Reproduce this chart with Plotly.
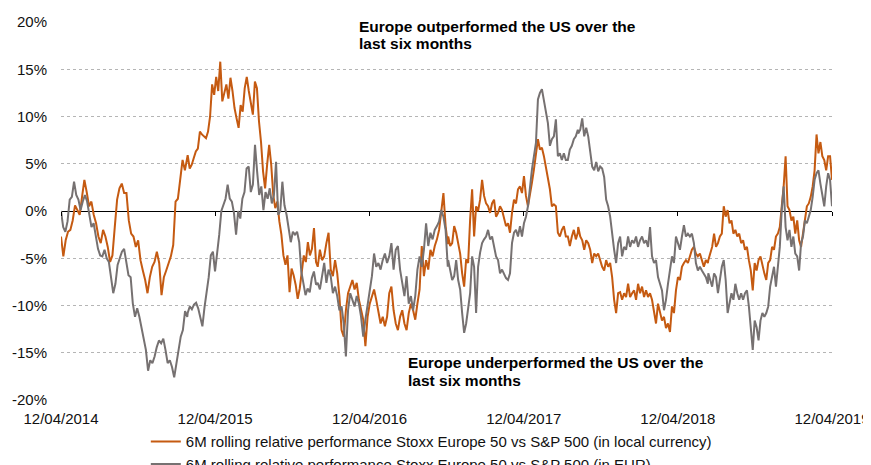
import pandas as pd
import plotly.graph_objects as go

# ---------------- data (values in %) ----------------
segment_dates = [
    ("2014-04-12", "2015-02-05"),
    ("2015-02-06", "2015-12-07"),
    ("2015-12-11", "2016-10-14"),
    ("2016-10-15", "2017-08-18"),
    ("2017-08-19", "2018-06-22"),
    ("2018-06-23", "2019-04-12"),
]

local_1 = [-2.7, -4.8, -3.1, -2.2, -2.0, -1.0, 0.6, 0.1, -0.4, 1.5, 3.3, 2.0, 0.5, 1.0, -0.4,
           -1.3, -2.7, -3.4, -2.0, -2.7, -3.8, -5.4, -4.7, -1.7, 1.2, 2.4, 2.9, 1.9, 1.9, -1.0,
           -2.4, -2.7, -3.8, -3.1, -5.2, -6.3, -7.3, -8.7, -7.0, -5.9, -5.4, -4.3, -5.5, -8.9, -7.0,
           -6.3, -5.5, -4.8, -3.6, 1.0, 1.3, 3.3, 5.4, 4.3, 5.8]
local_2 = [5.9, 4.5, 4.9, 5.6, 6.3, 6.6, 8.4, 8.1, 7.9, 7.7, 8.4, 10.0, 13.4, 12.3, 14.2, 12.7,
           15.8, 11.6, 12.5, 13.4, 11.9, 14.1, 12.7, 10.9, 9.8, 8.8, 11.2, 10.5, 13.0, 14.2, 12.7,
           11.6, 10.2, 13.7, 13.0, 9.5, 7.3, 4.2, 2.4, 4.9, 7.0, 4.9, 1.7, 0.3, 1.0, -1.1, -2.5,
           -4.7, -5.7, -4.7, -8.6, -6.1, -6.8, -7.8, -9.3, -8.2, -6.4, -4.7, -5.4, -3.3, -4.7, -4.0,
           -1.8, -5.4]
local_3 = [-5.9, -4.1, -5.2, -4.8, -3.4, -2.3, -6.2, -6.9, -5.2, -6.6, -9.0, -12.6, -13.3, -10.5,
           -8.7, -8.0, -7.3, -8.3, -7.6, -9.4, -10.5, -11.5, -14.3, -11.2, -9.8, -9.0, -8.3, -9.4,
           -10.8, -11.9, -11.2, -12.2, -11.2, -8.7, -8.0, -10.5, -11.9, -12.6, -11.2, -10.5, -11.9,
           -12.6, -10.8, -9.8, -10.5, -11.5, -9.8, -8.3, -3.7, -6.9, -5.2, -6.2, -4.1, -4.8, -3.7,
           -3.0, -2.0, -0.2, 1.9, -1.6, -3.5]
local_4 = [-2.7, -3.7, -3.4, -1.6, -2.3, -3.4, -4.5, -6.6, -8.0, -5.1, -5.5, -0.9, 2.3, -2.7, 0.5,
           0.0, 1.2, 3.3, 1.6, 0.8, 0.5, -0.2, 0.8, 1.2, -0.6, -0.2, 0.5, 0.1, -0.9, -1.6, -1.3,
           -2.3, -0.2, 1.2, 0.8, 2.3, 2.6, 1.9, 3.7, 1.6, 0.5, 1.6, 3.0, 4.4, 5.8, 7.6, 6.5, 6.7,
           5.8, 4.7, 3.7, 2.3, 0.5, 0.7, 0.5, -2.3, -2.7, -2.0, -1.6, -2.7, -2.7, -3.7, -2.7, -2.0,
           -3.0, -2.3]
local_5 = [-1.7, -2.7, -3.1, -4.1, -3.1, -3.4, -4.1, -5.5, -4.5, -4.8, -4.5, -5.2, -5.9, -6.3,
           -5.2, -5.9, -5.5, -7.0, -9.4, -10.8, -8.7, -8.6, -9.4, -8.7, -9.1, -7.7, -9.1, -8.7,
           -8.4, -9.4, -7.7, -8.7, -8.0, -9.1, -8.4, -9.1, -8.7, -9.4, -10.5, -11.9, -9.8, -10.8,
           -11.6, -11.2, -12.4, -11.9, -12.8, -10.1, -10.8, -8.4, -7.0, -7.3, -5.9, -5.5, -5.2,
           -5.5, -4.8, -4.1, -3.8, -4.5, -4.8, -4.5, -5.2, -5.9, -5.2, -5.5]
local_6 = [-5.2, -4.5, -3.8, -2.4, -3.8, -3.4, -2.7, -2.4, 0.5, -0.6, 0.1, -1.3, -1.0, -2.4, -2.0,
           -2.7, -2.4, -3.4, -3.1, -4.1, -3.8, -5.2, -6.3, -8.4, -5.5, -6.3, -5.2, -4.8, -5.9,
           -6.6, -7.3, -5.5, -5.2, -3.8, -4.1, -2.7, -2.4, -1.7, 0.5, 2.6, 5.8, 0.5, 0.1, -1.0,
           -0.6, -2.4, -1.0, -3.1, -3.8, -2.4, -1.0, 0.5, 0.8, 1.5, 2.6, 4.3, 8.1, 6.1, 7.3, 5.8,
           5.4, 4.3, 5.8, 5.8, 3.3]

eur_1 = [0.0, -1.7, -2.2, -1.1, 1.2, 1.5, 3.1, 1.7, 1.2, 0.1, 1.0, 1.7, 1.0, -0.2, -1.7, -1.3,
         -2.7, -4.0, -4.7, -4.8, -4.1, -5.0, -5.4, -7.0, -8.7, -7.7, -5.7, -5.0, -4.3, -4.0, -5.2,
         -6.8, -7.0, -9.8, -11.2, -10.3, -11.2, -12.3, -13.3, -14.7, -16.9, -15.8, -16.1, -15.4,
         -14.4, -13.7, -14.0, -13.5, -14.7, -16.1, -15.8, -16.5, -17.6, -16.1, -14.7, -13.3,
         -12.6, -10.6, -11.2]
eur_2 = [-10.8, -10.1, -10.4, -9.9, -9.7, -10.3, -11.2, -12.2, -10.2, -8.7, -7.0, -4.7, -4.3,
         -6.4, -4.7, -2.5, 0.0, 0.6, 1.3, 2.8, 1.3, 1.0, -0.2, -2.5, 0.0, -0.8, 1.3, 2.0, 4.5,
         4.7, 2.0, 2.8, 7.0, 4.2, 1.7, 2.6, 0.1, 2.0, 1.3, 2.4, 0.8, 1.7, 5.2, -0.4, 0.0, 3.1,
         0.6, -0.4, -1.8, -3.3, -2.2, -2.5, -2.2, -3.3, -6.4, -7.8, -8.9, -8.2, -8.6, -7.1, -6.4,
         -7.8]
eur_3 = [-7.6, -8.3, -6.9, -5.5, -7.6, -6.2, -6.9, -8.7, -8.0, -9.0, -10.5, -10.1, -11.9, -15.4,
         -10.5, -8.7, -9.4, -10.1, -9.0, -9.8, -11.2, -13.3, -11.5, -9.8, -8.3, -6.9, -4.5, -5.9,
         -5.5, -6.2, -5.2, -4.5, -5.5, -4.8, -3.4, -6.2, -4.1, -3.7, -6.2, -7.6, -9.0, -6.9, -9.8,
         -9.0, -10.5, -9.0, -6.2, -4.8, -5.9, -4.1, -1.3, -3.7, -2.3, -3.0, -2.0, -1.6, -1.1, 0.1,
         -0.6, -2.0, -5.9]
eur_4 = [-5.2, -6.2, -7.3, -6.9, -5.2, -7.3, -8.3, -10.8, -12.9, -11.9, -10.1, -8.7, -4.8, -5.9,
         -10.8, -5.9, -4.4, -3.4, -3.0, -2.7, -2.0, -3.0, -2.7, -3.7, -4.8, -5.2, -6.6, -6.2,
         -6.6, -7.1, -7.3, -6.6, -3.4, -2.3, -2.0, -2.7, -1.6, -2.7, -1.3, -0.6, 0.5, 2.6, 4.4,
         5.8, 7.2, 11.8, 12.5, 12.9, 11.8, 10.7, 9.3, 6.9, 7.6, 7.9, 9.7, 5.8, 6.1, 5.4, 6.1, 5.4,
         5.4, 6.5, 6.9, 7.6, 7.9, 8.6]
eur_5 = [8.2, 8.6, 9.8, 7.9, 8.8, 7.9, 6.1, 4.7, 4.3, 5.2, 4.2, 4.7, 4.5, 3.6, 1.2, 0.5, -0.6,
         -2.7, -4.1, -5.5, -3.4, -2.7, -4.8, -3.8, -4.1, -2.7, -3.8, -3.1, -3.4, -2.7, -3.8, -3.1,
         -2.7, -3.4, -3.1, -3.8, -1.7, -4.8, -5.5, -5.2, -7.0, -7.7, -8.4, -10.5, -9.4, -7.7,
         -6.3, -4.8, -5.5, -2.7, -3.4, -4.1, -2.7, -1.5, -2.7, -2.4, -2.7, -2.4, -3.4, -5.5, -6.3,
         -5.9, -6.3, -6.6, -7.0, -7.7]
eur_6 = [-6.6, -7.3, -8.0, -6.6, -7.0, -8.7, -7.3, -5.9, -5.2, -7.3, -10.8, -9.8, -8.7, -9.4,
         -7.7, -8.7, -9.4, -8.7, -9.4, -8.7, -8.4, -10.1, -12.6, -14.7, -11.6, -12.3, -13.7,
         -11.6, -10.8, -11.2, -10.8, -10.1, -8.0, -7.0, -5.9, -8.0, -5.5, -3.8, 0.1, 2.6, -1.7,
         -3.1, -2.0, -3.8, -2.7, -4.5, -4.8, -6.3, -3.4, -2.7, -1.0, -1.3, -0.6, 0.1, 1.5, 3.3,
         4.0, 4.3, 2.9, 1.5, 0.5, 2.6, 4.0, 3.3, 0.5]

local_segments = [local_1, local_2, local_3, local_4, local_5, local_6]
eur_segments = [eur_1, eur_2, eur_3, eur_4, eur_5, eur_6]

tick_dates = ["2014-04-12", "2015-04-12", "2016-04-12", "2017-04-12", "2018-04-12", "2019-04-12"]
tick_labels = ["12/04/2014", "12/04/2015", "12/04/2016", "12/04/2017", "12/04/2018", "12/04/2019"]
y_ticks = [-20, -15, -10, -5, 0, 5, 10, 15, 20]
y_labels = ["-20%", "-15%", "-10%", "-5%", "0%", "5%", "10%", "15%", "20%"]

name_local = "6M rolling relative performance Stoxx Europe 50 vs S&P 500 (in local currency)"
name_eur = "6M rolling relative performance Stoxx Europe 50 vs S&P 500 (in EUR)"
note_top = ["Europe outperformed the US over the", "last six months"]
note_bottom = ["Europe underperformed the US over the", "last six months"]


def build(segments):
    xs, ys = [], []
    for (a, b), vals in zip(segment_dates, segments):
        xs.extend(pd.date_range(a, b, periods=len(vals)))
        ys.extend(vals)
    return xs, ys


FONT = "Liberation Sans, Arial, sans-serif"
ORANGE = "#C55A11"
GREY = "#767171"

fig = go.Figure()
x1, y1 = build(local_segments)
x2, y2 = build(eur_segments)
fig.add_trace(go.Scatter(x=x1, y=y1, mode="lines", name=name_local,
                         line=dict(color=ORANGE, width=2)))
fig.add_trace(go.Scatter(x=x2, y=y2, mode="lines", name=name_eur,
                         line=dict(color=GREY, width=2)))
# helper trace for the tick marks on the zero line
fig.add_trace(go.Scatter(x=[tick_dates[0], tick_dates[-1]], y=[0, 0], xaxis="x2", mode="lines",
                         line=dict(color="rgba(0,0,0,0)"), showlegend=False, hoverinfo="skip"))

xrange = [tick_dates[0], tick_dates[-1]]
# the page places the figure 8px from the top-left corner, so the figure is 8px smaller
fig.update_layout(
    width=863, height=457,
    margin=dict(l=53, r=39, t=14, b=65, autoexpand=False),
    paper_bgcolor="white", plot_bgcolor="white",
    font=dict(family=FONT, size=15, color="#111111"),
    showlegend=True,
    legend=dict(orientation="v", x=0.110, xanchor="left", y=-0.067, yanchor="top",
                font=dict(family=FONT, size=15, color="#111111"),
                bgcolor="rgba(0,0,0,0)", borderwidth=0, tracegroupgap=0),
    xaxis=dict(range=xrange, tickvals=tick_dates, ticktext=tick_labels,
               showgrid=False, zeroline=False, showline=False,
               ticks="outside", ticklen=5, tickcolor="rgba(0,0,0,0)",
               tickfont=dict(family=FONT, size=15, color="#111111")),
    xaxis2=dict(range=xrange, overlaying="x", anchor="free", position=0.5, side="bottom",
                tickvals=tick_dates, showticklabels=False, ticks="outside", ticklen=4,
                tickcolor="#000000", tickwidth=1, showgrid=False, zeroline=False, showline=False),
    yaxis=dict(range=[-20, 20], tickvals=y_ticks, ticktext=y_labels,
               showgrid=True, gridcolor="#B5B5B5", griddash="dot", gridwidth=1,
               zeroline=True, zerolinecolor="#000000", zerolinewidth=1.3,
               showline=False, ticks="outside", ticklen=10, tickcolor="rgba(0,0,0,0)",
               tickfont=dict(family=FONT, size=15, color="#111111")),
)

ann_font = dict(family=FONT, size=15.5, color="#000000")
fig.add_annotation(text="<b>" + note_top[0] + "</b>", xref="paper", yref="paper",
                   x=0.3839, y=0.989, xanchor="left", yanchor="middle", showarrow=False, font=ann_font)
fig.add_annotation(text="<b>" + note_top[1] + "</b>", xref="paper", yref="paper",
                   x=0.3839, y=0.944, xanchor="left", yanchor="middle", showarrow=False, font=ann_font)
fig.add_annotation(text="<b>" + note_bottom[0] + "</b>", xref="paper", yref="paper",
                   x=0.4475, y=0.0990, xanchor="left", yanchor="middle", showarrow=False, font=ann_font)
fig.add_annotation(text="<b>" + note_bottom[1] + "</b>", xref="paper", yref="paper",
                   x=0.4475, y=0.0503, xanchor="left", yanchor="middle", showarrow=False, font=ann_font)

fig.write_html("out.html")
